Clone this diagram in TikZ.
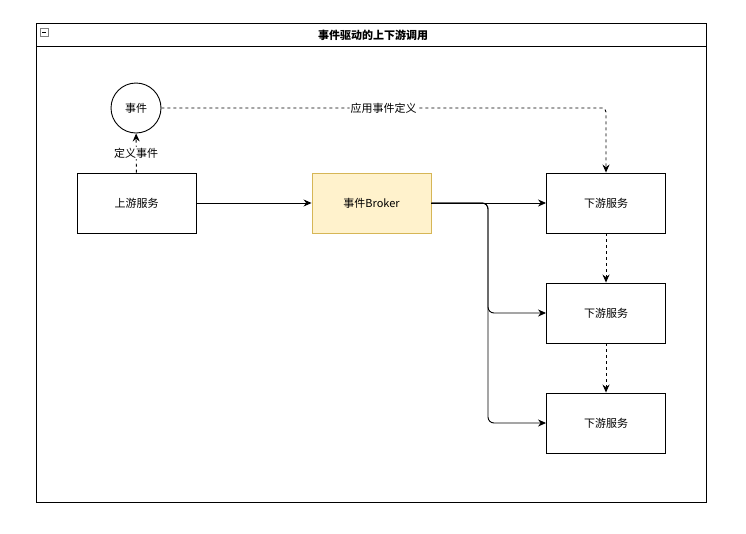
\documentclass[tikz,border=0pt]{standalone}
\usepackage{fontspec}
\setmainfont{Noto Sans CJK SC}
\usetikzlibrary{arrows.meta}
\definecolor{brokerfill}{HTML}{FFF2CC}
\definecolor{brokerline}{HTML}{D6B656}
\begin{document}
\begin{tikzpicture}[x=1pt,y=-1pt,line width=0.9pt,>={Stealth[length=8pt,width=7pt]},
  dashline/.style={dash pattern=on 3pt off 3pt},
  every node/.style={font=\fontsize{11}{13}\selectfont}]
      \useasboundingbox (0,0) rectangle (746,533);
      % frame and title bar
      \draw (36,23) rectangle (706,502);
      \draw (36,46) -- (706,46);
      \draw[gray,line width=0.6pt] (40,28) rectangle (48,36);
      \draw[line width=0.6pt] (42,32) -- (46,32);
      \node[font=\fontsize{11}{13}\selectfont\bfseries] (title) at (373,35) {事件驱动的上下游调用};
      \begin{scope}[every node/.style={draw,minimum width=119pt,minimum height=60pt,font=\fontsize{11}{13}\selectfont}]
        \node (up) at (136.5,203) {上游服务};
        \node[fill=brokerfill,draw=brokerline] (broker) at (371.5,203) {事件Broker};
        \node (downA) at (606,203) {下游服务};
        \node (downB) at (606,313) {下游服务};
        \node (downC) at (606,423) {下游服务};
      \end{scope}
      \node[circle,draw,minimum size=50pt] (event) at (136,108) {事件};
      \begin{scope}[every node/.style={fill=white,inner sep=1pt,font=\fontsize{11}{13}\selectfont}]
        \draw[->,dashline] (up) -- node {定义事件} (event);
        \draw[->,dashline,rounded corners=4pt] (event) -- node[pos=0.5] {应用事件定义} (606,108) -- (downA);
      \end{scope}
      \draw[->] (up) -- (broker);
      \draw[->] (broker) -- (downA);
      \draw[->,rounded corners=6pt] (broker.east) -- (488,203) |- (downB.west);
      \draw[->,rounded corners=6pt] (broker.east) -- (488,203) |- (downC.west);
      \draw[->,dashline] (downA) -- (downB);
      \draw[->,dashline] (downB) -- (downC);
    \end{tikzpicture}
\end{document}
